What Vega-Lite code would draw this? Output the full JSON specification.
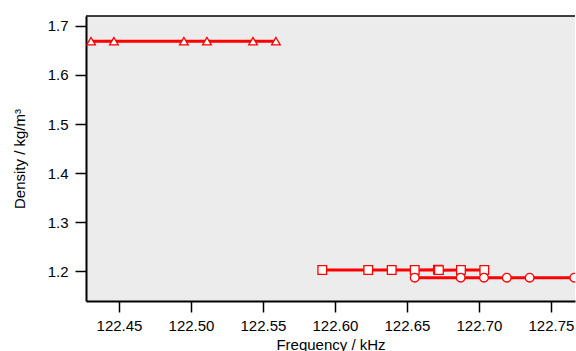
{
  "$schema": "https://vega.github.io/schema/vega-lite/v6.json",
  "width": 489,
  "height": 285,
  "padding": {"left": 12, "top": 15, "right": 0, "bottom": 0},
  "autosize": {"type": "pad"},
  "background": "white",
  "config": {
    "font": "Liberation Sans",
    "view": {"fill": "#ececec", "stroke": null},
    "axis": {
      "grid": false,
      "domainColor": "black",
      "domainWidth": 2,
      "tickColor": "black",
      "tickWidth": 1.5,
      "tickSize": 11,
      "labelFont": "Liberation Sans",
      "labelFontSize": 15,
      "labelColor": "black",
      "labelPadding": 6,
      "titleFont": "Liberation Sans",
      "titleFontSize": 15,
      "titleFontWeight": "normal",
      "titleColor": "black"
    }
  },
  "data": {
    "values": [
      {"f": 122.4306, "d": 1.669, "s": "tri"},
      {"f": 122.4465, "d": 1.669, "s": "tri"},
      {"f": 122.4951, "d": 1.669, "s": "tri"},
      {"f": 122.5111, "d": 1.669, "s": "tri"},
      {"f": 122.5431, "d": 1.669, "s": "tri"},
      {"f": 122.5590, "d": 1.669, "s": "tri"},
      {"f": 122.5912, "d": 1.202, "s": "sq"},
      {"f": 122.6231, "d": 1.202, "s": "sq"},
      {"f": 122.6394, "d": 1.202, "s": "sq"},
      {"f": 122.6554, "d": 1.202, "s": "sq"},
      {"f": 122.6715, "d": 1.2025, "s": "sq"},
      {"f": 122.6722, "d": 1.2018, "s": "sq"},
      {"f": 122.6875, "d": 1.202, "s": "sq"},
      {"f": 122.7037, "d": 1.202, "s": "sq"},
      {"f": 122.6554, "d": 1.1864, "s": "circ"},
      {"f": 122.6873, "d": 1.1864, "s": "circ"},
      {"f": 122.7035, "d": 1.1864, "s": "circ"},
      {"f": 122.7193, "d": 1.1864, "s": "circ"},
      {"f": 122.7352, "d": 1.1864, "s": "circ"},
      {"f": 122.7662, "d": 1.1864, "s": "circ"}
    ]
  },
  "encoding": {
    "x": {
      "field": "f", "type": "quantitative",
      "scale": {"domain": [122.4271, 122.7667], "nice": false, "zero": false},
      "axis": {"title": "Frequency / kHz", "values": [122.45, 122.5, 122.55, 122.6, 122.65, 122.7, 122.75], "format": ".2f", "titlePadding": 4}
    },
    "y": {
      "field": "d", "type": "quantitative",
      "scale": {"domain": [1.1388, 1.7204], "nice": false, "zero": false},
      "axis": {"title": "Density / kg/m³", "values": [1.2, 1.3, 1.4, 1.5, 1.6, 1.7], "format": ".1f", "labelPadding": 7, "titlePadding": 20}
    }
  },
  "layer": [
    {
      "mark": {"type": "line", "color": "#ff0000", "strokeWidth": 3, "clip": true},
      "encoding": {"detail": {"field": "s"}, "order": {"field": "f"}}
    },
    {
      "mark": {"type": "point", "filled": false, "fill": "white", "fillOpacity": 1, "stroke": "#ff0000", "strokeWidth": 1.3, "opacity": 1, "size": 75, "clip": true},
      "encoding": {
        "shape": {
          "field": "s", "type": "nominal",
          "scale": {"domain": ["tri", "sq", "circ"], "range": ["triangle-up", "square", "circle"]},
          "legend": null
        }
      }
    },
    {
      "mark": {"type": "rule", "color": "black", "strokeWidth": 1.5},
      "data": {"values": [{"y": 1.7204}]},
      "encoding": {
        "y": {"field": "y", "type": "quantitative"},
        "x": null
      }
    }
  ]
}
